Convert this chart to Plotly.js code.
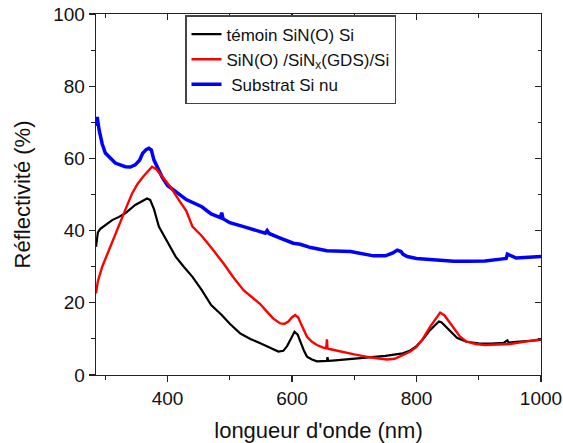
<!DOCTYPE html>
<html>
<head>
<meta charset="utf-8">
<script src="https://cdn.plot.ly/plotly-3.0.1.min.js"></script>
<style>html,body{margin:0;padding:0;background:#fff;}#chart{width:563px;height:443px;}</style>
</head>
<body>
<div id="chart"></div>
<script>
// témoin SiN(O) Si
const temoinX = [285, 288, 292, 300, 311, 322, 332, 348, 360, 367, 372, 378, 386, 400, 413, 426, 440, 455, 470, 487, 500, 517, 533, 549, 565, 578, 586, 592, 598, 604, 609, 614, 619, 624, 632, 640, 650, 656, 657, 658, 665, 677, 700, 725, 750, 778, 790, 800, 810, 822, 830, 836, 840, 846, 855, 865, 880, 900, 920, 940, 946, 948, 960, 980, 1000];
const temoinY = [35.5, 39.5, 40.5, 41.5, 42.9, 43.8, 44.8, 47.1, 48.3, 48.9, 48.5, 46.0, 41.1, 37.0, 32.8, 30.0, 27.2, 23.5, 19.4, 16.6, 14.2, 11.5, 10.0, 8.8, 7.6, 6.5, 6.7, 8.0, 10.0, 12.0, 11.2, 8.8, 6.8, 5.1, 4.3, 3.8, 3.9, 3.9, 4.9, 3.9, 4.0, 4.2, 4.5, 4.9, 5.3, 6.0, 6.8, 8.0, 9.8, 12.5, 13.8, 14.8, 14.6, 13.5, 12.0, 10.3, 9.2, 8.8, 8.7, 8.9, 9.6, 9.0, 9.2, 9.5, 9.7];

// SiN(O) /SiNx(GDS)/Si
const gdsX = [285, 288, 295, 303, 311, 320, 327, 335, 343, 352, 361, 368, 375, 382, 390, 405, 418, 430, 440, 455, 471, 490, 505, 522, 538, 548, 560, 570, 581, 588, 594, 600, 605, 610, 614, 619, 624, 632, 640, 650, 655, 656, 657, 660, 677, 700, 725, 752, 765, 778, 790, 800, 810, 822, 830, 838, 845, 852, 860, 870, 880, 895, 910, 930, 950, 970, 1000];
const gdsY = [22.6, 26, 30, 33.5, 36.5, 40.5, 43.9, 47, 50.3, 53, 55, 56.5, 57.7, 57, 55.2, 52, 48.5, 45.5, 41.1, 38.5, 35.1, 30.9, 27.2, 23.5, 21.2, 19.8, 17.5, 15.6, 14.3, 14.2, 14.8, 16.0, 16.6, 15.9, 14.3, 12.3, 10.6, 9.2, 8.3, 7.6, 7.4, 9.9, 7.4, 7.2, 6.5, 5.7, 4.9, 4.3, 4.5, 5.5, 6.5, 7.8, 10.0, 13.4, 15.5, 17.3, 16.5, 14.8, 12.8, 10.6, 9.3, 8.6, 8.3, 8.4, 8.6, 9.1, 9.9];

// Substrat Si nu
const siX = [285, 287, 290, 295, 300, 308, 316, 332, 340, 348, 355, 360, 366, 370, 374, 378, 385, 391, 400, 413, 430, 455, 470, 485, 487, 489, 500, 522, 540, 557, 560, 563, 580, 602, 613, 630, 656, 694, 731, 750, 762, 769, 775, 778, 785, 800, 827, 860, 881, 910, 935, 944, 946, 960, 980, 1000];
const siY = [69, 71.5, 67.9, 64, 61.5, 60, 58.7, 57.7, 57.6, 58.2, 59.5, 61.4, 62.5, 62.8, 62.3, 59.6, 57, 54.9, 52.5, 50.8, 48.6, 46.6, 44.6, 43.6, 45, 43.3, 42.2, 41.1, 40.2, 39.3, 40.0, 39.2, 38, 36.5, 36.2, 35.3, 34.4, 34.2, 33.0, 33.0, 33.8, 34.6, 34.2, 33.5, 32.8, 32.3, 31.9, 31.5, 31.5, 31.6, 32.1, 32.3, 33.5, 32.4, 32.6, 32.8];

const seriesNames = ['témoin SiN(O) Si', 'SiN(O) /SiN<sub>x</sub>(GDS)/Si', '\u00a0Substrat Si nu'];
const xTitle = "longueur d'onde (nm)";
const yTitle = 'Réflectivité (%)';
const xRange = [285, 1000];
const yRange = [0, 100];

const FONT = 'Liberation Sans, Arial, sans-serif';

const traces = [
  {x: temoinX, y: temoinY, name: seriesNames[0], type: 'scatter', mode: 'lines',
   line: {color: '#000000', width: 2.2}, legendrank: 1},
  {x: siX, y: siY, name: seriesNames[2], type: 'scatter', mode: 'lines', xaxis: 'x2', yaxis: 'y2',
   line: {color: '#0000ff', width: 3.5}, legendrank: 3},
  {x: gdsX, y: gdsY, name: seriesNames[1], type: 'scatter', mode: 'lines', xaxis: 'x2', yaxis: 'y2',
   line: {color: '#ff0000', width: 2.4}, legendrank: 2}
];

const axCommon = {
  showgrid: false, zeroline: false,
  linecolor: '#222', linewidth: 1.3,
  tickcolor: '#222', tickwidth: 1.3,
  tickfont: {family: FONT, size: 19, color: '#111'}
};

const layout = {
  width: 563, height: 443,
  margin: {l: 96, r: 22, t: 14, b: 68},
  paper_bgcolor: '#fff', plot_bgcolor: '#fff',
  font: {family: FONT, color: '#111'},
  showlegend: true,
  legend: {
    x: 0.2, y: 0.997, xanchor: 'left', yanchor: 'top',
    bgcolor: '#fff', bordercolor: '#444', borderwidth: 1.5,
    font: {family: FONT, size: 17, color: '#111'},
    tracegroupgap: 0
  },
  xaxis: Object.assign({}, axCommon, {
    range: xRange, tick0: 0, dtick: 200, ticks: 'outside', ticklen: 6,
    mirror: true,
    minor: {dtick: 100, tick0: 0, ticks: 'outside', ticklen: 3.5, tickcolor: '#222', tickwidth: 1.2},
    title: {text: xTitle, font: {family: FONT, size: 22, color: '#111'}, standoff: 16}
  }),
  yaxis: Object.assign({}, axCommon, {
    range: yRange, tick0: 0, dtick: 20, ticks: 'outside', ticklen: 6,
    mirror: true,
    minor: {dtick: 10, tick0: 0, ticks: 'outside', ticklen: 3.5, tickcolor: '#222', tickwidth: 1.2},
    title: {text: yTitle, font: {family: FONT, size: 22, color: '#111'}, standoff: 16}
  }),
  xaxis2: {
    overlaying: 'x', side: 'top', anchor: 'y2', range: xRange, tick0: 0, dtick: 200,
    ticks: 'inside', ticklen: 6, tickcolor: '#222', tickwidth: 1.3,
    showticklabels: false, showgrid: false, zeroline: false, showline: false,
    minor: {dtick: 100, tick0: 0, ticks: 'inside', ticklen: 3.5, tickcolor: '#222', tickwidth: 1.2}
  },
  yaxis2: {
    overlaying: 'y', side: 'right', anchor: 'x2', range: yRange, tick0: 0, dtick: 20,
    ticks: 'inside', ticklen: 6, tickcolor: '#222', tickwidth: 1.3,
    showticklabels: false, showgrid: false, zeroline: false, showline: false,
    minor: {dtick: 10, tick0: 0, ticks: 'inside', ticklen: 3.5, tickcolor: '#222', tickwidth: 1.2}
  }
};

Plotly.newPlot('chart', traces, layout, {displayModeBar: false, staticPlot: true});
</script>
</body>
</html>
